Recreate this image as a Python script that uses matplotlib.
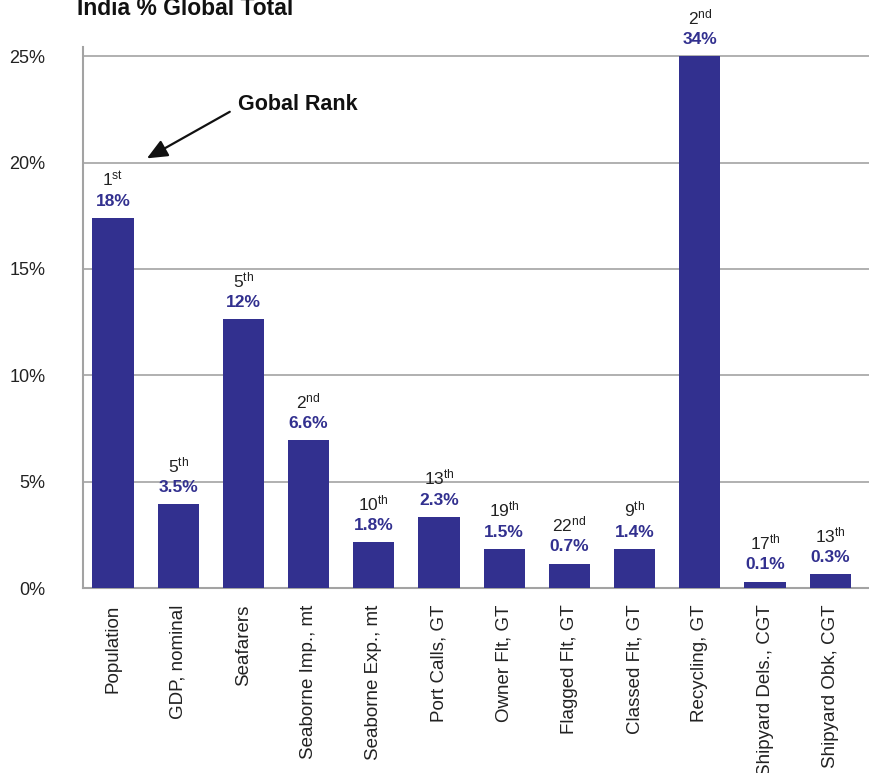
import matplotlib
matplotlib.use("Agg")
import matplotlib.pyplot as plt
import numpy as np

# India's share of the global total, as drawn (Recycling capped at the axis top)
categories = ["Population", "GDP, nominal", "Seafarers", "Seaborne Imp., mt",
              "Seaborne Exp., mt", "Port Calls, GT", "Owner Flt, GT",
              "Flagged Flt, GT", "Classed Flt, GT", "Recycling, GT",
              "Shipyard Dels., CGT", "Shipyard Obk, CGT"]
bar_values = [17.4, 3.95, 12.65, 6.95, 2.15, 3.35, 1.85, 1.15, 1.85, 25.0, 0.3, 0.65]
pct_labels = ["18%", "3.5%", "12%", "6.6%", "1.8%", "2.3%", "1.5%", "0.7%",
              "1.4%", "34%", "0.1%", "0.3%"]
rank_num = ["1", "5", "5", "2", "10", "13", "19", "22", "9", "2", "17", "13"]
rank_sfx = ["st", "th", "th", "nd", "th", "th", "th", "nd", "th", "nd", "th", "th"]
yticks = [0, 5, 10, 15, 20, 25]

plt.rcParams["font.family"] = ["Liberation Sans", "DejaVu Sans"]
plt.rcParams["mathtext.fontset"] = "custom"
plt.rcParams["mathtext.rm"] = "Liberation Sans"
plt.rcParams["mathtext.it"] = "Liberation Sans"

navy = "#32308f"
grid_c = "#a3a3a3"

fig = plt.figure(figsize=(8.7, 7.73), dpi=100)
ax = fig.add_axes([0.0954, 0.2393, 0.9046, 0.7003])

x = np.arange(len(categories))
ax.bar(x, bar_values, width=0.63, color=navy, zorder=3)

ax.set_xlim(-0.46, len(categories) - 1 + 0.61)
ax.set_ylim(0, 25.45)
ax.set_yticks(yticks)
ax.set_yticklabels([f"{t}%" for t in yticks], fontsize=13, color="#222222")
ax.yaxis.grid(True, color=grid_c, linewidth=1.2, zorder=0)
ax.set_xticks(x)
ax.set_xticklabels(categories, rotation=90, fontsize=13.5, color="#222222", va="top")
ax.tick_params(axis="both", length=0)
ax.tick_params(axis="x", pad=12)
ax.tick_params(axis="y", pad=27)

for s in ["top", "right"]:
    ax.spines[s].set_visible(False)
ax.spines["left"].set_color(grid_c)
ax.spines["left"].set_linewidth(1.5)
ax.spines["bottom"].set_color(grid_c)
ax.spines["bottom"].set_linewidth(1.5)

for xi, v, p, n, sfx in zip(x, bar_values, pct_labels, rank_num, rank_sfx):
    ax.annotate(p, (xi, v), xytext=(0, 12), textcoords="offset points",
                ha="center", va="center", fontsize=12.5, fontweight="bold",
                color=navy, zorder=4)
    ax.annotate(n + r"$^{\mathrm{" + sfx + "}}$", (xi, v), xytext=(0, 28),
                textcoords="offset points", ha="center", va="center",
                fontsize=12.5, color="#222222", zorder=4)

ax.annotate("Gobal Rank", xy=(0.52, 20.2), xytext=(1.92, 22.75),
            fontsize=15.5, fontweight="bold", color="#111111",
            ha="left", va="center",
            arrowprops=dict(arrowstyle="-|>,head_length=0.8,head_width=0.35",
                            color="#111111", lw=1.6, relpos=(-0.05, 0.2),
                            shrinkA=2, shrinkB=0))

fig.text(0.0885, 1 - 15 / 773, "India % Global Total", fontsize=16.5,
         fontweight="bold", color="#111111", ha="left", va="baseline")

fig.savefig("out.png", dpi=100)
